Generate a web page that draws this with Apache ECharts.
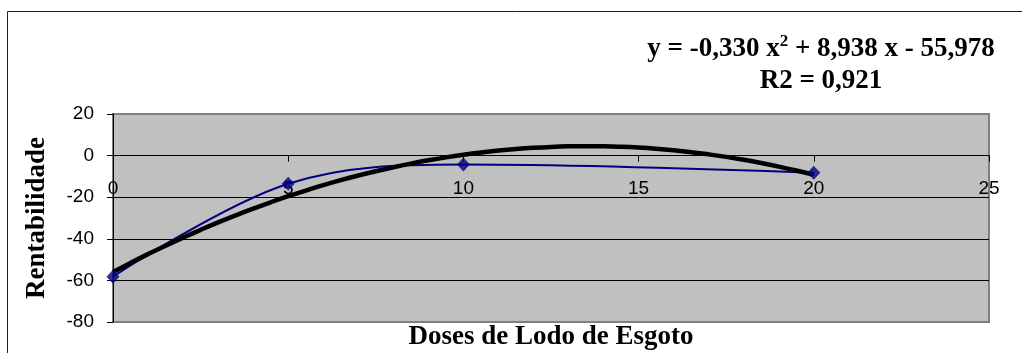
<!DOCTYPE html>
<html><head><meta charset="utf-8">
<script src="https://cdn.jsdelivr.net/npm/echarts@6/dist/echarts.min.js"></script>
<style>html,body{margin:0;padding:0;background:#fff}#c{width:1022px;height:353px}</style>
</head><body><div id="c"></div>
<script>
// Data
var doses = [0, 5, 10, 20];
var rentabilidade = [-58.2, -13.5, -4.3, -8.3];
// Polynomial trendline coefficients (as printed on the chart): y = a x^2 + b x + c
var trendCoef = [-0.330, 8.938, -55.978];
var xTicks = [0, 5, 10, 15, 20, 25];
var yTicks = [-80, -60, -40, -20, 0, 20];

var points = doses.map(function (d, i) { return [d, rentabilidade[i]]; });
var trend = [];
for (var x = 0; x <= 20.0001; x += 0.5) {
  trend.push([x, trendCoef[0] * x * x + trendCoef[1] * x + trendCoef[2]]);
}

var W = 1022, H = 353;
var gridTop = 114, gridBottom = 31;
var yMin = yTicks[0], yMax = yTicks[yTicks.length - 1];
var plotH = H - gridTop - gridBottom;
// lift the x axis (labels and ticks) to the y = 0 line
var zeroOffset = -(plotH * (0 - yMin) / (yMax - yMin));

var chart = echarts.init(document.getElementById('c'), null, {renderer: 'canvas'});
var serif = '"Liberation Serif", "Times New Roman", serif';
var sans = '"Liberation Sans", Arial, sans-serif';
chart.setOption({
  animation: false,
  backgroundColor: '#fff',
  graphic: [{
    type: 'rect', shape: {x: 7.5, y: 11.5, width: 1100, height: 500},
    style: {fill: 'none', stroke: '#222', lineWidth: 1}, z: 0
  }],
  title: [{
    text: '{t|y = -0,330 x}{s|2}{t| + 8,938 x - 55,978}\n{t|R2 = 0,921}',
    left: 816, top: 28, textAlign: 'center',
    textStyle: {
      rich: {
        t: {fontFamily: serif, fontWeight: 'bold', fontSize: 27, color: '#000', lineHeight: 32, align: 'center'},
        s: {fontFamily: serif, fontWeight: 'bold', fontSize: 17, color: '#000', verticalAlign: 'top', lineHeight: 32, padding: [0, 0, 14, 0]}
      }
    }
  }],
  grid: {left: 113, right: 33, top: gridTop, bottom: gridBottom, containLabel: false, outerBoundsMode: 'none',
    show: true, backgroundColor: '#c0c0c0', borderColor: '#808080', borderWidth: 2},
  xAxis: {
    type: 'value', min: xTicks[0], max: xTicks[xTicks.length - 1], interval: 5,
    position: 'bottom', offset: zeroOffset,
    name: 'Doses de Lodo de Esgoto', nameLocation: 'middle', nameGap: 168,
    nameTextStyle: {fontFamily: serif, fontWeight: 'bold', fontSize: 27, color: '#000'},
    axisLine: {onZero: false, lineStyle: {color: '#000', width: 1}},
    axisTick: {show: true, inside: false, length: 6, lineStyle: {color: '#000'}},
    axisLabel: {fontFamily: sans, fontSize: 19, color: '#000', margin: 24, showMinLabel: true, showMaxLabel: true},
    splitLine: {show: false}
  },
  yAxis: {
    type: 'value', min: yMin, max: yMax, interval: 20,
    name: 'Rentabilidade', nameLocation: 'middle', nameGap: 62, nameRotate: 90,
    nameTextStyle: {fontFamily: serif, fontWeight: 'bold', fontSize: 27, color: '#000'},
    axisLine: {show: true, onZero: false, lineStyle: {color: '#000', width: 1}},
    axisTick: {show: true, inside: false, length: 6, lineStyle: {color: '#000'}},
    axisLabel: {fontFamily: sans, fontSize: 19, color: '#000', margin: 19},
    splitLine: {show: true, showMinLine: false, showMaxLine: false, lineStyle: {color: '#000', width: 1}}
  },
  series: [
    {type: 'line', data: points, smooth: 0.35, showSymbol: false, lineStyle: {color: '#000080', width: 2}, z: 2},
    {type: 'line', data: trend, smooth: true, showSymbol: false, lineStyle: {color: '#000', width: 4.5}, z: 3},
    {type: 'scatter', data: points, symbol: 'diamond', symbolSize: [13, 14], itemStyle: {color: '#000080'}, z: 4}
  ]
});
</script></body></html>
